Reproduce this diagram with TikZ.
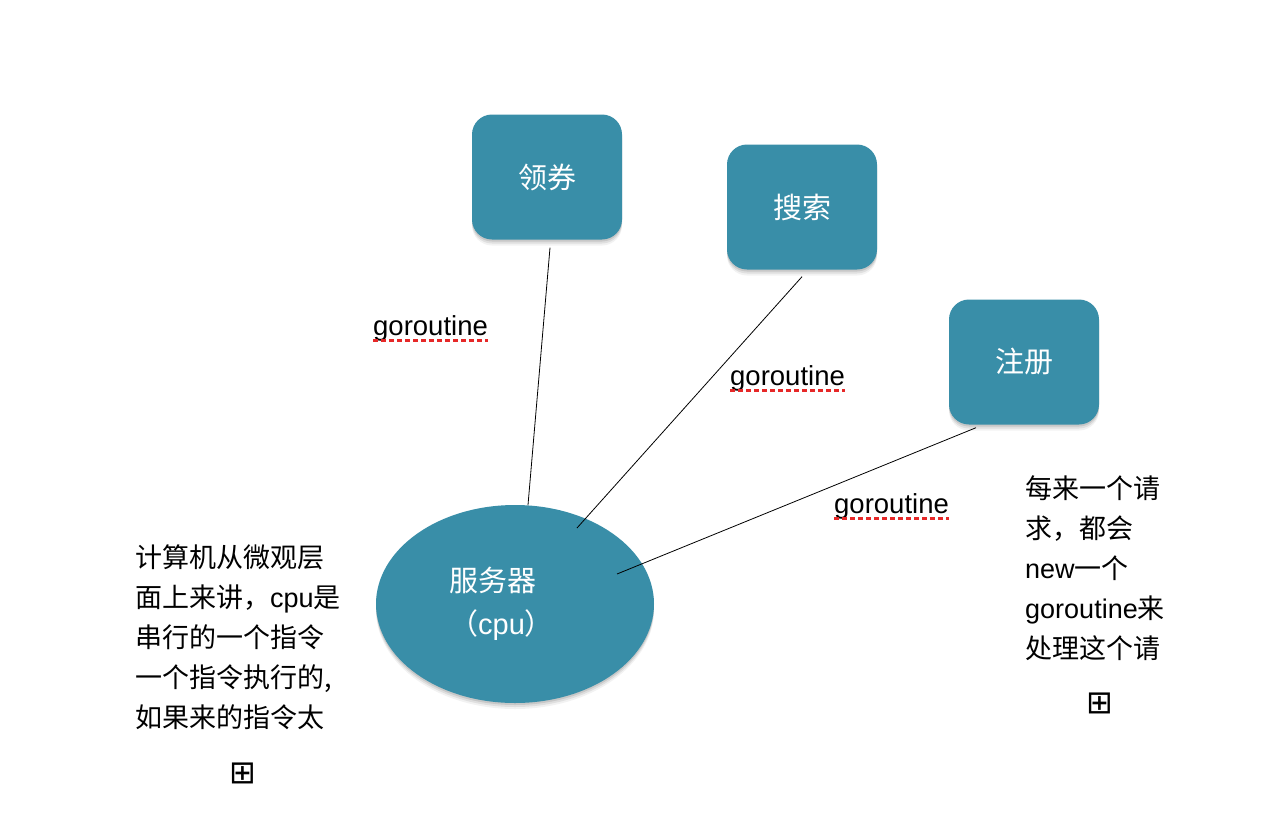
\documentclass[tikz,border=0pt]{standalone}
\usepackage{fontspec}
\setmainfont{Noto Sans CJK SC}
\newfontfamily\lat{Liberation Sans}
\newfontfamily\dejavu{DejaVu Sans}
\usetikzlibrary{shapes.geometric,shadows}
\definecolor{tealfill}{RGB}{57,142,168}
\definecolor{squig}{RGB}{230,40,40}
\begin{document}
\begin{tikzpicture}[x=1pt,y=-1pt,
  shade1/.style={
    drop shadow={shadow xshift=0pt,shadow yshift=-2pt,opacity=0.10,fill=black},
    drop shadow={shadow xshift=0pt,shadow yshift=-4pt,opacity=0.08,fill=black},
    drop shadow={shadow xshift=0pt,shadow yshift=-6pt,opacity=0.05,fill=black}},
  box/.style={fill=tealfill, rounded corners=20pt, minimum width=150pt, minimum height=125pt,
     inner sep=0pt, text=white, font=\fontsize{29}{32}\selectfont, shade1},
  server/.style={ellipse, fill=tealfill, minimum width=278pt, minimum height=198pt, inner sep=0pt, shade1},
  conn/.style={draw=black, line width=0.8pt},
  glabel/.style={anchor=base west, inner sep=0pt, font=\fontsize{27.5}{32}\selectfont\lat},
  squiggle/.style={draw=squig, line width=3pt, dash pattern=on 5pt off 3pt},
  txt/.style={anchor=north west, align=left, inner sep=0pt, font=\fontsize{27}{40}\selectfont},
  plusbox/.style={inner sep=0pt, font=\fontsize{32}{32}\selectfont\dejavu}
]
\useasboundingbox (0,0) rectangle (1264,830);
\fill[white] (0,0) rectangle (1264,830);

\node[box] (lq) at (547,177) {领券};
\node[box] (ss) at (802,207) {搜索};
\node[box] (zc) at (1024,362) {注册};
\node[server] (srv) at (515,604) {};
\node[anchor=west, align=left, inner sep=0pt, text=white, font=\fontsize{29}{43}\selectfont] (srvlbl) at (449,604) {服务器\\（{\lat cpu}）};

\coordinate (e1) at (528,505);
\coordinate (e2) at (577,528);
\coordinate (e3) at (617,574);
\draw[conn] ([xshift=3pt,yshift=-8pt]lq.south) -- (e1);
\draw[conn] ([yshift=-7pt]ss.south) -- (e2);
\draw[conn] ([xshift=-48pt,yshift=-3pt]zc.south) -- (e3);

\node[glabel] (g1) at (373,335) {goroutine};
\node[glabel] (g2) at (730,385) {goroutine};
\node[glabel] (g3) at (834,513) {goroutine};
\foreach \g in {g1,g2,g3}
  \draw[squiggle] ([yshift=-5.5pt]\g.base west) -- ([yshift=-5.5pt]\g.base east);

\node[txt] (lt) at (135,544) {计算机从微观层\\面上来讲，{\lat cpu}是\\串行的一个指令\\一个指令执行的,\\如果来的指令太};
\node[txt] (rt) at (1025,475) {每来一个请\\求，都会\\{\lat new}一个\\{\lat goroutine}来\\处理这个请};

\node[plusbox] (p1) at (243,773) {⊞};
\node[plusbox] (p2) at (1100,703) {⊞};
\end{tikzpicture}
\end{document}
